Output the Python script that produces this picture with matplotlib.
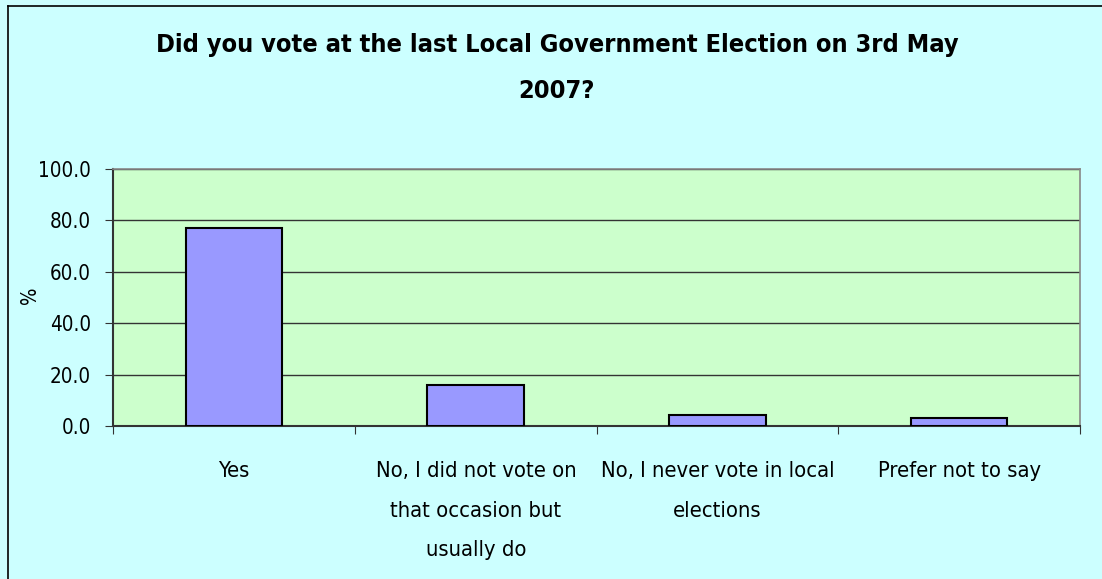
import matplotlib
matplotlib.use("Agg")
import matplotlib.pyplot as plt
from matplotlib.lines import Line2D
import numpy as np

categories = ["Yes",
              "No, I did not vote on\nthat occasion but\nusually do",
              "No, I never vote in local\nelections",
              "Prefer not to say"]
values = [76.9, 15.9, 4.3, 3.2]
yticks = [0, 20, 40, 60, 80, 100]
title = "Did you vote at the last Local Government Election on 3rd May\n2007?"

plt.rcParams['font.family'] = ['DejaVu Sans']
plt.rcParams['font.stretch'] = 'condensed'

W, H = 1102, 579
fig = plt.figure(figsize=(W / 100, H / 100), dpi=100)
fig.patch.set_facecolor('#CCFFFF')
# chart-area border (only left and top edges visible in the reference)
fig.add_artist(Line2D([7.5 / W, 7.5 / W], [0, 1 - 5.5 / H], transform=fig.transFigure,
                      color='black', linewidth=1.2))
fig.add_artist(Line2D([7.5 / W, 1], [1 - 5.5 / H, 1 - 5.5 / H], transform=fig.transFigure,
                      color='black', linewidth=1.2))

left, right, top, bottom = 113.3, 1080, 169, 426
ax = fig.add_axes([left / W, 1 - bottom / H, (right - left) / W, (bottom - top) / H])
ax.set_facecolor('#CCFFCC')
x = np.arange(len(categories))
ax.bar(x, values, width=0.4, color='#9999FF', edgecolor='black', linewidth=1.5, zorder=3)
ax.set_xlim(-0.5, len(categories) - 0.5)
ax.set_ylim(0, 100)
ax.set_yticks(yticks)
ax.set_yticklabels([f"{v:.1f}" for v in yticks])
ax.yaxis.grid(True, color='#333333', linewidth=1.0, zorder=1)
ax.set_axisbelow(True)
ax.set_xticks(np.arange(-0.5, len(categories), 1.0))
ax.set_xticklabels([])
ax.set_xticks(x, minor=True)
ax.set_xticklabels(categories, minor=True, linespacing=2.22, va='top')
ax.tick_params(axis='x', which='minor', length=0, pad=25.5)
ax.tick_params(axis='x', which='major', length=6, direction='out', color='#333333')
ax.tick_params(axis='y', length=6, direction='out', color='#333333', pad=10)
for s in ['top', 'right']:
    ax.spines[s].set_color('#888888')
    ax.spines[s].set_linewidth(1.2)
for s in ['left', 'bottom']:
    ax.spines[s].set_color('#333333')
    ax.spines[s].set_linewidth(1.5)

ttl = fig.text(557 / W, 1 - 98 / H, title, ha='center', va='baseline', fontsize=16,
               fontweight='bold', linespacing=2.16)
ylab = fig.text(30 / W, 1 - 295 / H, "%", ha='center', va='center', rotation=90, fontsize=16)

r = fig.canvas.get_renderer()

def fit(texts, sample, target):
    w = sample.get_window_extent(r).width
    size = sample.get_fontsize() * target / w
    for t in texts:
        t.set_fontsize(size)
    return size

# calibrate sizes to the reference text widths
fig.canvas.draw()
ylbls = ax.get_yticklabels()
sz = fit(ylbls, ylbls[-1], 53)
xlbls = ax.get_xticklabels(minor=True)
fit(xlbls, xlbls[3], 163)
ylab.set_fontsize(sz)
# title: fit first line width
probe = fig.text(0, 0, title.split("\n")[0], fontsize=16, fontweight='bold')
w = probe.get_window_extent(r).width
probe.remove()
ttl.set_fontsize(16 * 805 / w)

fig.savefig("out.png", dpi=100, facecolor=fig.get_facecolor())
